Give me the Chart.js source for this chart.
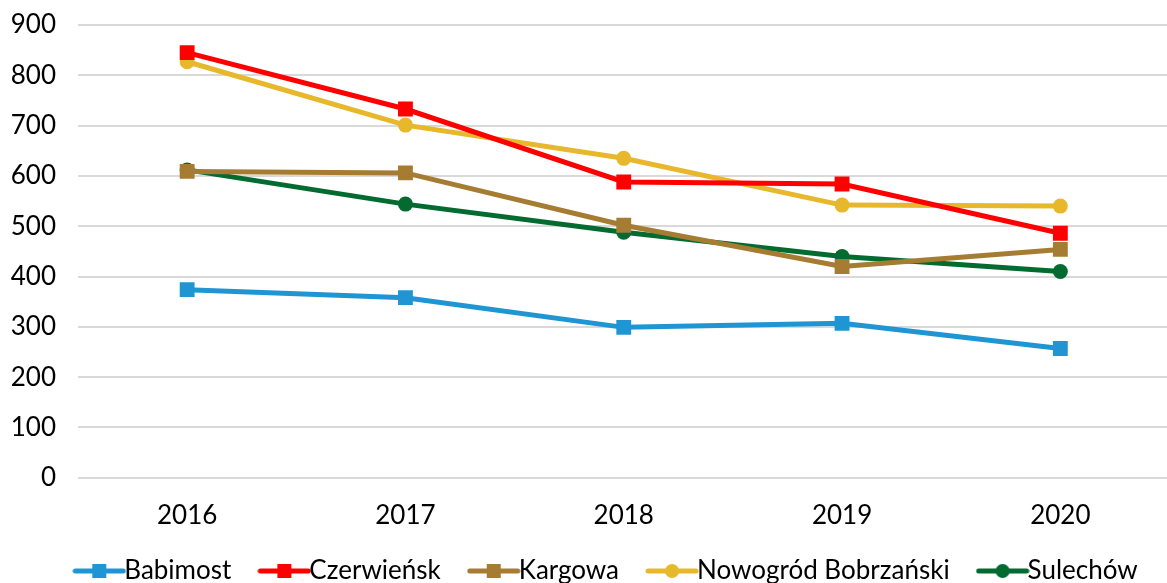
<!DOCTYPE html>
<html>
<head>
<meta charset="utf-8">
<script src="https://cdn.jsdelivr.net/npm/chart.js@4"></script>
<style>
  html, body { margin: 0; padding: 0; background: #fff; overflow: hidden; }
  canvas { display: block; }
</style>
</head>
<body>
<canvas id="lineChart" width="1180" height="583"></canvas>
<script>
// Data
const years = ['2016', '2017', '2018', '2019', '2020'];
const babimost = [374, 358, 299, 307, 257];
const czerwiensk = [845, 733, 588, 584, 486];
const kargowa = [609, 606, 502, 420, 454];
const nowogrod = [827, 701, 635, 542, 540];
const sulechow = [612, 544, 488, 440, 410];
const yTicks = [0, 100, 200, 300, 400, 500, 600, 700, 800, 900];

const FONT = 'Lato, "Open Sans", sans-serif';

// little line+marker image for the legend
function legendIcon(color, style) {
    const c = document.createElement('canvas');
    c.width = 54; c.height = 16;
    const g = c.getContext('2d');
    g.strokeStyle = color;
    g.lineWidth = 5;
    g.lineCap = 'round';
    g.beginPath(); g.moveTo(3, 8); g.lineTo(51, 8); g.stroke();
    g.fillStyle = color;
    if (style === 'rect') {
        g.fillRect(20, 1, 14, 14);
    } else {
        g.beginPath(); g.arc(27, 8, 7, 0, Math.PI * 2); g.fill();
    }
    return c;
}

function series(label, data, color, style) {
    return {
        label: label,
        data: data,
        borderColor: color,
        backgroundColor: color,
        borderWidth: 5,
        pointStyle: style,
        pointRadius: style === 'rect' ? 10.5 : 7.5,
        pointBorderWidth: 0,
        pointHoverRadius: style === 'rect' ? 10.5 : 7.5,
        tension: 0,
        icon: legendIcon(color, style)
    };
}

// nudge the legend: a bit right of centre and closer to the axis, as in the original
const legendShift = {
    id: 'legendShift',
    afterLayout(chart) {
        const lg = chart.legend;
        lg.left += 15;
        lg.right += 15;
        lg.top -= 36;
        lg.bottom -= 36;
    }
};

const ctx = document.getElementById('lineChart').getContext('2d');
new Chart(ctx, {
    type: 'line',
    data: {
        labels: years,
        datasets: [
            series('Babimost', babimost, '#1f96d3', 'rect'),
            series('Czerwieńsk', czerwiensk, '#ff0000', 'rect'),
            series('Kargowa', kargowa, '#a57c32', 'rect'),
            series('Nowogród Bobrzański', nowogrod, '#e8b82c', 'circle'),
            series('Sulechów', sulechow, '#036b30', 'circle')
        ]
    },
    plugins: [legendShift],
    options: {
        responsive: false,
        animation: false,
        layout: { padding: { top: 25, right: -7, left: 8, bottom: -47 } },
        scales: {
            x: {
                offset: true,
                grid: { display: false, drawTicks: false },
                border: { display: false },
                ticks: { color: '#000', font: { family: FONT, size: 26 }, padding: 22 },
                afterFit: axis => {
                    axis.paddingLeft = 0;
                    axis.paddingRight = 0;
                }
            },
            y: {
                min: 0,
                max: 900,
                afterBuildTicks: axis => { axis.ticks = yTicks.map(v => ({ value: v })); },
                afterFit: axis => {
                    axis.width = 70;
                    axis.paddingTop = 0;
                    axis.paddingBottom = 0;
                },
                grid: { color: '#d9d9d9', lineWidth: 2, drawTicks: false },
                border: { display: false },
                ticks: { color: '#000', font: { family: FONT, size: 26 }, padding: 22 }
            }
        },
        plugins: {
            tooltip: { enabled: false },
            legend: {
                position: 'bottom',
                align: 'center',
                labels: {
                    usePointStyle: true,
                    pointStyleWidth: 24,
                    padding: 41,
                    color: '#000',
                    font: { family: FONT, size: 26 },
                    generateLabels: chart => chart.data.datasets.map((ds, i) => ({
                        text: ds.label,
                        pointStyle: ds.icon,
                        fillStyle: ds.borderColor,
                        strokeStyle: ds.borderColor,
                        lineWidth: 0,
                        datasetIndex: i,
                        hidden: false
                    }))
                }
            }
        }
    }
});
</script>
</body>
</html>
